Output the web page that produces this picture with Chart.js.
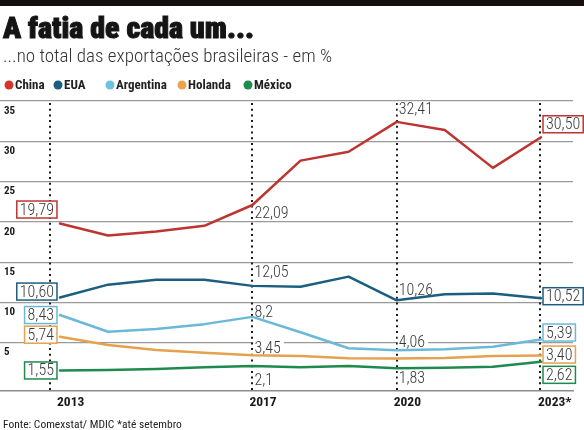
<!DOCTYPE html>
<html>
<head>
<meta charset="utf-8">
<script src="https://cdn.jsdelivr.net/npm/chart.js@4/dist/chart.umd.min.js"></script>
<style>
  html, body { margin: 0; padding: 0; background: #fff; }
  canvas { display: block; }
</style>
</head>
<body>
<canvas id="fatia" width="584" height="430"></canvas>
<script>
// Data (% of Brazilian exports)
const years = [2013, 2014, 2015, 2016, 2017, 2018, 2019, 2020, 2021, 2022, 2023];
const china     = [19.79, 18.3, 18.8, 19.5, 22.09, 27.6, 28.7, 32.41, 31.4, 26.7, 30.50];
const eua       = [10.60, 12.2, 12.8, 12.8, 12.05, 11.95, 13.2, 10.26, 11.0, 11.1, 10.52];
const argentina = [8.43, 6.36, 6.7, 7.3, 8.2, 6.3, 4.3, 4.06, 4.18, 4.5, 5.39];
const holanda   = [5.74, 4.7, 4.1, 3.76, 3.45, 3.35, 3.06, 3.05, 3.1, 3.35, 3.40];
const mexico    = [1.55, 1.6, 1.74, 1.95, 2.1, 1.95, 2.1, 1.83, 1.9, 2.0, 2.62];

const seriesNames = ["China", "EUA", "Argentina", "Holanda", "México"];
const xTicks = [2013, 2017, 2020, 2023];
const xTickLabels = ["2013", "2017", "2020", "2023*"];
const yTicks = [5, 10, 15, 20, 25, 30, 35];

const colors = ["#bd3530", "#1b5e7f", "#6ab9d9", "#e5a24e", "#1f8a4e"];
const dotColors = ["#d2352c", "#1a5f80", "#6cc0e0", "#e8a54e", "#1e8c50"];
const legendX = [9, 58, 110, 182, 248];

const COND = '"Roboto Condensed", "DejaVu Sans Condensed", sans-serif';

// value labels: series index, year index, kind, vertical shift in px
const valueLabels = [
  { s: 0, i: 0, kind: "left", dy: -14 },
  { s: 1, i: 0, kind: "left", dy: -6 },
  { s: 2, i: 0, kind: "left", dy: 0 },
  { s: 3, i: 0, kind: "left", dy: -2 },
  { s: 4, i: 0, kind: "left", dy: 0 },
  { s: 0, i: 4, kind: "text", dy: 8 },
  { s: 1, i: 4, kind: "text", dy: -14 },
  { s: 2, i: 4, kind: "text", dy: -5, dec: 1 },
  { s: 3, i: 4, kind: "text", dy: -7 },
  { s: 4, i: 4, kind: "text", dy: 14, dec: 1 },
  { s: 0, i: 7, kind: "text", dy: -13 },
  { s: 1, i: 7, kind: "text", dy: -10 },
  { s: 2, i: 7, kind: "text", dy: -8 },
  { s: 4, i: 7, kind: "text", dy: 10 },
  { s: 0, i: 10, kind: "right", dy: -13 },
  { s: 1, i: 10, kind: "right", dy: -2 },
  { s: 2, i: 10, kind: "right", dy: -7 },
  { s: 3, i: 10, kind: "right", dy: -1 },
  { s: 4, i: 10, kind: "right", dy: 13 },
];

const allSeries = [china, eua, argentina, holanda, mexico];

function fmt(v, dec) {
  return v.toFixed(dec).replace(".", ",");
}

// Header, legend, footer, dotted year lines and value labels
const decorations = {
  id: "decorations",
  beforeDatasetsDraw(chart) {
    const ctx = chart.ctx;
    const x = chart.scales.x;
    const y = chart.scales.y;
    const area = chart.chartArea;

    // dotted year lines
    ctx.save();
    ctx.strokeStyle = "#1a1a1a";
    ctx.lineWidth = 2;
    ctx.setLineDash([2, 3.7]);
    xTicks.forEach((yr, k) => {
      let px = Math.round(x.getPixelForValue(yr));
      if (k === 0) px -= 10;
      if (k === xTicks.length - 1) px -= 1;
      ctx.beginPath();
      ctx.moveTo(px, area.top + 2);
      ctx.lineTo(px, area.bottom);
      ctx.stroke();
    });
    ctx.restore();

    // value labels
    ctx.save();
    ctx.font = "300 16px " + COND;
    ctx.textBaseline = "middle";
    ctx.textAlign = "left";
    valueLabels.forEach(l => {
      const v = allSeries[l.s][l.i];
      const txt = fmt(v, l.dec || 2);
      const px = x.getPixelForValue(years[l.i]);
      const py = y.getPixelForValue(v) + l.dy;
      const w = ctx.measureText(txt).width;
      let left;
      if (l.kind === "left") left = px - 3 - (w + 6);
      else if (l.kind === "right") left = px + 2;
      else left = px + 1;
      if (l.kind === "text") {
        ctx.fillStyle = "#fff";
        ctx.fillRect(left, py - 7, w + 4, 14);
        ctx.fillStyle = "#3a3a3a";
        ctx.fillText(txt, left + 1, py + 1);
      } else {
        ctx.fillStyle = "#fff";
        ctx.fillRect(left, py - 8.5, w + 6, 17);
        ctx.strokeStyle = colors[l.s];
        ctx.lineWidth = 1.5;
        ctx.strokeRect(left, py - 8.5, w + 6, 17);
        ctx.fillStyle = "#3a3a3a";
        ctx.fillText(txt, left + 3, py + 1);
      }
    });
    ctx.restore();
  },
  afterDraw(chart) {
    const ctx = chart.ctx;
    ctx.save();
    // top bar
    ctx.fillStyle = "#17100a";
    ctx.fillRect(0, 0, chart.width, 6);

    // title
    ctx.fillStyle = "#141414";
    ctx.strokeStyle = "#141414";
    ctx.lineWidth = 1;
    ctx.font = "900 30px " + COND;
    ctx.textAlign = "left";
    ctx.textBaseline = "alphabetic";
    ctx.fillText("A fatia de cada um...", 3, 38);
    ctx.strokeText("A fatia de cada um...", 3, 38);

    // subtitle
    ctx.fillStyle = "#333";
    ctx.font = "300 19px " + COND;
    ctx.fillText("...no total das exportações brasileiras - em %", 3, 62);

    // legend
    ctx.font = "bold 13px " + COND;
    ctx.textBaseline = "middle";
    seriesNames.forEach((name, k) => {
      const lx = legendX[k];
      ctx.fillStyle = dotColors[k];
      ctx.beginPath();
      ctx.arc(lx, 85, 4.5, 0, Math.PI * 2);
      ctx.fill();
      ctx.fillStyle = "#222";
      ctx.fillText(name, lx + 6, 85.5);
    });

    // footer
    ctx.font = "11.5px " + COND;
    ctx.textBaseline = "alphabetic";
    ctx.fillStyle = "#222";
    ctx.fillText("Fonte: Comexstat/ MDIC *até setembro", 3, 428);
    ctx.restore();
  }
};

const mk = (arr) => years.map((yr, i) => ({ x: yr, y: arr[i] }));

const chart = new Chart(document.getElementById("fatia"), {
  type: "line",
  data: {
    datasets: allSeries.map((arr, k) => ({
      label: seriesNames[k],
      data: mk(arr),
      borderColor: colors[k],
      backgroundColor: colors[k],
      borderWidth: 2.5,
      pointRadius: 0,
      tension: 0,
      borderJoinStyle: "round",
      borderCapStyle: "round",
    })),
  },
  options: {
    responsive: false,
    animation: false,
    devicePixelRatio: 1,
    layout: { padding: { top: 101, right: 11, left: 0, bottom: 0 } },
    plugins: {
      legend: { display: false },
      title: { display: false },
      tooltip: { enabled: false },
    },
    scales: {
      x: {
        type: "linear",
        min: 2011.753,
        max: 2023.665,
        afterBuildTicks: (scale) => {
          scale.ticks = xTicks.map(v => ({ value: v }));
        },
        afterFit: (scale) => {
          scale.height = 39;
          scale.paddingLeft = 0;
          scale.paddingRight = 0;
        },
        grid: { display: false },
        border: { display: true, color: "#8c8c8c", width: 1.5 },
        ticks: {
          autoSkip: false,
          maxRotation: 0,
          align: "start",
          labelOffset: -3,
          padding: -4,
          color: "#1a1a1a",
          font: { family: COND, size: 13.5, weight: "bold" },
          callback: (value, index) => xTickLabels[index],
        },
      },
      y: {
        type: "linear",
        min: -1,
        max: 35,
        afterBuildTicks: (scale) => {
          scale.ticks = yTicks.map(v => ({ value: v }));
        },
        afterFit: (scale) => {
          scale.width = 0;
          scale.paddingTop = 0;
          scale.paddingBottom = 0;
        },
        grid: { color: "#9a9a9a", lineWidth: 1.2, drawTicks: false },
        border: { display: false },
        ticks: {
          mirror: true,
          padding: 4,
          labelOffset: 10,
          color: "#1a1a1a",
          font: { family: COND, size: 11, weight: "bold" },
        },
      },
    },
  },
  plugins: [decorations],
});
</script>
</body>
</html>
